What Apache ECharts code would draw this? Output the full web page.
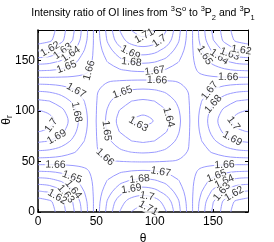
<!DOCTYPE html>
<html><head><meta charset="utf-8">
<script src="https://cdn.jsdelivr.net/npm/echarts@6/dist/echarts.min.js"></script>
<style>html,body{margin:0;padding:0;background:#fff;}#chart{width:274px;height:242px;}</style>
</head><body><div id="chart"></div>
<script>
const FONT = "'Liberation Sans',Arial,Helvetica,sans-serif";

// theta (x) and theta_r (y) sample positions, degrees
const thetaValues  = [0,10,20,30,40,50,60,70,80,90,100,110,120,130,140,150,160,170,180];
const thetaRValues = [0,10,20,30,40,50,60,70,80,90,100,110,120,130,140,150,160,170,180];

// intensity ratio estimated at each (theta_r row, theta column)
const ratioGrid = [
 [1.6000,1.6050,1.6155,1.6280,1.6450,1.6650,1.6840,1.7002,1.7102,1.7140,1.7102,1.7002,1.6840,1.6650,1.6450,1.6280,1.6155,1.6050,1.6000],
 [1.6045,1.6080,1.6175,1.6305,1.6465,1.6645,1.6817,1.6957,1.7048,1.7080,1.7048,1.6957,1.6817,1.6645,1.6465,1.6305,1.6175,1.6080,1.6045],
 [1.6187,1.6210,1.6276,1.6379,1.6504,1.6638,1.6763,1.6865,1.6932,1.6955,1.6932,1.6865,1.6763,1.6638,1.6504,1.6379,1.6276,1.6210,1.6187],
 [1.6341,1.6355,1.6398,1.6464,1.6545,1.6631,1.6711,1.6777,1.6820,1.6835,1.6820,1.6777,1.6711,1.6631,1.6545,1.6464,1.6398,1.6355,1.6341],
 [1.6495,1.6501,1.6520,1.6549,1.6585,1.6624,1.6659,1.6688,1.6707,1.6714,1.6707,1.6688,1.6659,1.6624,1.6585,1.6549,1.6520,1.6501,1.6495],
 [1.6649,1.6647,1.6642,1.6635,1.6626,1.6616,1.6608,1.6601,1.6596,1.6594,1.6596,1.6601,1.6608,1.6616,1.6626,1.6635,1.6642,1.6647,1.6649],
 [1.6792,1.6782,1.6755,1.6714,1.6664,1.6610,1.6559,1.6518,1.6491,1.6482,1.6491,1.6518,1.6559,1.6610,1.6664,1.6714,1.6755,1.6782,1.6792],
 [1.6913,1.6897,1.6851,1.6781,1.6696,1.6604,1.6519,1.6449,1.6403,1.6388,1.6403,1.6449,1.6519,1.6604,1.6696,1.6781,1.6851,1.6897,1.6913],
 [1.7006,1.6985,1.6925,1.6833,1.6720,1.6601,1.6487,1.6395,1.6335,1.6314,1.6335,1.6395,1.6487,1.6601,1.6720,1.6833,1.6925,1.6985,1.7006],
 [1.7050,1.7027,1.6960,1.6858,1.6732,1.6598,1.6473,1.6370,1.6303,1.6280,1.6303,1.6370,1.6473,1.6598,1.6732,1.6858,1.6960,1.7027,1.7050],
 [1.7006,1.6985,1.6925,1.6833,1.6720,1.6601,1.6487,1.6395,1.6335,1.6314,1.6335,1.6395,1.6487,1.6601,1.6720,1.6833,1.6925,1.6985,1.7006],
 [1.6913,1.6897,1.6851,1.6781,1.6696,1.6604,1.6519,1.6449,1.6403,1.6388,1.6403,1.6449,1.6519,1.6604,1.6696,1.6781,1.6851,1.6897,1.6913],
 [1.6792,1.6782,1.6755,1.6714,1.6664,1.6610,1.6559,1.6518,1.6491,1.6482,1.6491,1.6518,1.6559,1.6610,1.6664,1.6714,1.6755,1.6782,1.6792],
 [1.6649,1.6647,1.6642,1.6635,1.6626,1.6616,1.6608,1.6601,1.6596,1.6594,1.6596,1.6601,1.6608,1.6616,1.6626,1.6635,1.6642,1.6647,1.6649],
 [1.6495,1.6501,1.6520,1.6549,1.6585,1.6624,1.6659,1.6688,1.6707,1.6714,1.6707,1.6688,1.6659,1.6624,1.6585,1.6549,1.6520,1.6501,1.6495],
 [1.6341,1.6355,1.6398,1.6464,1.6545,1.6631,1.6711,1.6777,1.6820,1.6835,1.6820,1.6777,1.6711,1.6631,1.6545,1.6464,1.6398,1.6355,1.6341],
 [1.6187,1.6210,1.6276,1.6379,1.6504,1.6638,1.6763,1.6865,1.6932,1.6955,1.6932,1.6865,1.6763,1.6638,1.6504,1.6379,1.6276,1.6210,1.6187],
 [1.6045,1.6080,1.6175,1.6305,1.6465,1.6645,1.6817,1.6957,1.7048,1.7080,1.7048,1.6957,1.6817,1.6645,1.6465,1.6305,1.6175,1.6080,1.6045],
 [1.6000,1.6050,1.6155,1.6280,1.6450,1.6650,1.6840,1.7002,1.7102,1.7140,1.7102,1.7002,1.6840,1.6650,1.6450,1.6280,1.6155,1.6050,1.6000]
];

const contourLevels = [1.61,1.62,1.63,1.64,1.65,1.66,1.67,1.68,1.69,1.70,1.71];

// inline contour labels: [level, approx theta, approx theta_r]
const contourLabels = [
 [1.62,11,160],[1.63,20,161],[1.64,27,158],[1.65,24,145],[1.66,44,140],
 [1.69,78,155],[1.68,80,146],[1.71,93,170],[1.70,106,166],[1.67,100,140],[1.66,102,131],
 [1.65,150,160],[1.64,157,156],[1.63,163,152],[1.62,173,150],[1.66,163,133],[1.67,146,121],[1.68,149,108],
 [1.70,162,83],[1.69,163,65],[1.66,160,45],
 [1.65,153,36],[1.64,159,32],[1.63,156,22],[1.62,165,24],
 [1.67,105,38],[1.68,87,33],[1.69,80,24],[1.70,94,19],[1.71,96,7],
 [1.66,15,45],[1.65,28,31],[1.64,30,22],[1.63,24,18],[1.62,17,16],
 [1.70,11,86],[1.69,18,70],[1.67,33,121],[1.68,34,99],
 [1.63,83,81],[1.64,113,94],[1.65,57,80],[1.65,71,123],[1.66,54,50]
];

const thetaTickLabels  = ['0','50','100','150'];
const thetaRTickLabels = ['0','50','100','150'];

const LINE_COLOR = '#8f8fff';

function contourPolylines(L) {
  const g = ratioGrid, T = thetaValues, R = thetaRValues;
  const adj = new Map();
  const link = (a, b) => {
    if (!adj.has(a)) adj.set(a, []);
    if (!adj.has(b)) adj.set(b, []);
    adj.get(a).push(b); adj.get(b).push(a);
  };
  for (let i = 0; i < R.length - 1; i++) {
    for (let j = 0; j < T.length - 1; j++) {
      const bl = g[i][j], br = g[i][j+1], tl = g[i+1][j], tr = g[i+1][j+1];
      const K = {
        b: 'h,' + i + ',' + j, t: 'h,' + (i+1) + ',' + j,
        l: 'v,' + i + ',' + j, r: 'v,' + i + ',' + (j+1)
      };
      const e = [];
      if ((bl < L) !== (br < L)) e.push('b');
      if ((br < L) !== (tr < L)) e.push('r');
      if ((tl < L) !== (tr < L)) e.push('t');
      if ((bl < L) !== (tl < L)) e.push('l');
      if (e.length === 2) link(K[e[0]], K[e[1]]);
      else if (e.length === 4) {
        const c = (bl + br + tl + tr) / 4 >= L;
        if ((bl >= L) !== c) link(K.l, K.b);
        if ((br >= L) !== c) link(K.b, K.r);
        if ((tr >= L) !== c) link(K.r, K.t);
        if ((tl >= L) !== c) link(K.t, K.l);
      }
    }
  }
  const coord = key => {
    const [k, si, sj] = key.split(',');
    const i = +si, j = +sj;
    if (k === 'h') {
      const t = (L - g[i][j]) / (g[i][j+1] - g[i][j]);
      return [T[j] + t * (T[j+1] - T[j]), R[i]];
    }
    const t = (L - g[i][j]) / (g[i+1][j] - g[i][j]);
    return [T[j], R[i] + t * (R[i+1] - R[i])];
  };
  const used = new Set();
  const ek = (a, b) => a < b ? a + '|' + b : b + '|' + a;
  const walk = start => {
    const line = [start];
    let cur = start;
    while (true) {
      const nb = adj.get(cur).find(n => !used.has(ek(cur, n)));
      if (nb === undefined) break;
      used.add(ek(cur, nb));
      line.push(nb);
      cur = nb;
    }
    return line;
  };
  const lines = [];
  for (const [k, v] of adj) {
    if (v.length === 1 && v.some(n => !used.has(ek(k, n)))) lines.push(walk(k));
  }
  for (const [k, v] of adj) {
    if (v.some(n => !used.has(ek(k, n)))) lines.push(walk(k));
  }
  return lines.filter(l => l.length > 1).map(l => l.map(coord));
}

const chart = echarts.init(document.getElementById('chart'), null, {renderer: 'canvas'});

const lineSeries = [];
const linesByLevel = {};
contourLevels.forEach(L => {
  const lines = contourPolylines(L);
  linesByLevel[L.toFixed(2)] = lines;
  lines.forEach(pts => lineSeries.push({
    type: 'line', data: pts, showSymbol: false, symbol: 'none', smooth: 0.35,
    silent: true, animation: false, clip: true, z: 2,
    lineStyle: {color: LINE_COLOR, width: 0.9}
  }));
});

const tickFmt = labels => v => labels.includes(String(v)) ? String(v) : '';

const baseAxis = {
  type: 'value', min: 0, max: 180, interval: 50,
  splitLine: {show: false},
  axisTick: {show: true, inside: true, length: 3, lineStyle: {color: '#000', width: 1}}
};

const richSmall = {
  n: {fontSize: 10.5, fontFamily: FONT, fill: '#000', color: '#000', verticalAlign: 'middle', lineHeight: 17},
  p: {fontSize: 7.5, fontFamily: FONT, fill: '#000', color: '#000', verticalAlign: 'top', lineHeight: 17},
  b: {fontSize: 7.5, fontFamily: FONT, fill: '#000', color: '#000', verticalAlign: 'bottom', lineHeight: 17}
};

const option = {
  animation: false,
  backgroundColor: '#fff',
  grid: {left: 38, top: 30, width: 210, height: 182, containLabel: false, outerBoundsMode: 'none'},
  xAxis: [
    Object.assign({}, baseAxis, {
      position: 'bottom',
      axisLine: {show: true, onZero: false, lineStyle: {color: '#000', width: 1.5}},
      axisLabel: {show: true, color: '#000', fontSize: 12, fontFamily: FONT, margin: 4,
                  showMaxLabel: false, formatter: tickFmt(thetaTickLabels)},
      name: 'θ', nameLocation: 'middle', nameGap: 13,
      nameTextStyle: {color: '#000', fontSize: 12, fontFamily: FONT, verticalAlign: 'top'}
    }),
    Object.assign({}, baseAxis, {
      position: 'top',
      axisLine: {show: true, onZero: false, lineStyle: {color: '#000', width: 1}},
      axisLabel: {show: false}
    })
  ],
  yAxis: [
    Object.assign({}, baseAxis, {
      position: 'left',
      axisLine: {show: true, onZero: false, lineStyle: {color: '#000', width: 1.5}},
      axisLabel: {show: true, color: '#000', fontSize: 12, fontFamily: FONT, margin: 3,
                  showMaxLabel: false, formatter: tickFmt(thetaRTickLabels)}
    }),
    Object.assign({}, baseAxis, {
      position: 'right',
      axisLine: {show: true, onZero: false, lineStyle: {color: '#000', width: 1}},
      axisLabel: {show: false}
    })
  ],
  graphic: [{
    type: 'text', x: 143, y: 13, z: 100,
    style: {
      text: '{n|Intensity ratio of OI lines from }{p|3}{n|S}{p|o}{n| to }{p|3}{n|P}{b|2}{n| and }{p|3}{n|P}{b|1}',
      align: 'center', verticalAlign: 'middle', textAlign: 'center', textVerticalAlign: 'middle',
      rich: richSmall
    }
  }, {
    type: 'text', x: 7, y: 120, rotation: Math.PI / 2, z: 100,
    style: {
      text: '{t|θ}{s|r}',
      align: 'center', verticalAlign: 'middle', textAlign: 'center', textVerticalAlign: 'middle',
      rich: {
        t: {fontSize: 12, fontFamily: FONT, fill: '#000', color: '#000', verticalAlign: 'middle', lineHeight: 15},
        s: {fontSize: 8.5, fontFamily: FONT, fill: '#000', color: '#000', verticalAlign: 'bottom', lineHeight: 15}
      }
    }
  }],
  series: lineSeries
};
chart.setOption(option);

// place inline labels on the nearest point of the matching contour, rotated along it
const toPx = p => chart.convertToPixel({xAxisIndex: 0, yAxisIndex: 0}, p);
const labelData = [];
contourLabels.forEach(([lv, th, tr]) => {
  const lines = linesByLevel[lv.toFixed(2)] || [];
  const P = toPx([th, tr]);
  let best = null;
  lines.forEach(pts => {
    const px = pts.map(toPx);
    for (let k = 0; k < px.length - 1; k++) {
      const A = px[k], B = px[k+1];
      const dx = B[0] - A[0], dy = B[1] - A[1];
      const len2 = dx*dx + dy*dy || 1e-9;
      let t = ((P[0]-A[0])*dx + (P[1]-A[1])*dy) / len2;
      t = Math.max(0, Math.min(1, t));
      const Q = [A[0] + t*dx, A[1] + t*dy];
      const d = (Q[0]-P[0])**2 + (Q[1]-P[1])**2;
      if (!best || d < best.d) best = {d, Q, dx, dy};
    }
  });
  if (!best) return;
  let ang = Math.atan2(-best.dy, best.dx) * 180 / Math.PI;
  if (ang > 90) ang -= 180;
  if (ang < -90) ang += 180;
  const txt = String(parseFloat(lv.toFixed(2)));
  labelData.push({
    name: txt,
    value: chart.convertFromPixel({xAxisIndex: 0, yAxisIndex: 0}, best.Q),
    label: {rotate: Math.round(ang)}
  });
});

chart.setOption({
  series: lineSeries.concat([{
    type: 'scatter', data: labelData, symbolSize: 1, silent: true, z: 5,
    itemStyle: {color: 'rgba(0,0,0,0)'},
    label: {show: true, position: 'inside', formatter: p => p.name, color: '#000',
            fontSize: 10.5, fontFamily: FONT, backgroundColor: '#fff', padding: [0, 0.5, 0, 0.5]},
    labelLayout: {hideOverlap: false}
  }])
});
</script>
</body></html>
